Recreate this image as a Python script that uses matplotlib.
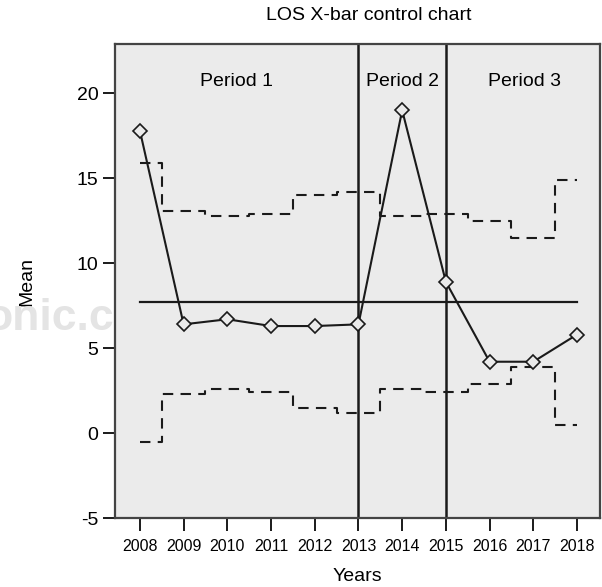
import numpy as np
import matplotlib.pyplot as plt

plt.rcParams['font.family'] = ['Liberation Sans', 'DejaVu Sans']
plt.rcParams['axes.unicode_minus'] = False

years = [2008, 2009, 2010, 2011, 2012, 2013, 2014, 2015, 2016, 2017, 2018]
means = [17.8, 6.4, 6.7, 6.3, 6.3, 6.4, 19.0, 8.9, 4.2, 4.2, 5.8]
ucl = [15.9, 13.1, 12.8, 12.9, 14.0, 14.2, 12.8, 12.9, 12.5, 11.5, 14.9]
lcl = [-0.5, 2.3, 2.6, 2.4, 1.5, 1.2, 2.6, 2.4, 2.9, 3.9, 0.5]
center = 7.7
period_breaks = [2013, 2015]
period_labels = ['Period 1', 'Period 2', 'Period 3']
period_x = [2010.2, 2014.0, 2016.8]
y_ticks = [-5, 0, 5, 10, 15, 20]

ink = '#1a1a1a'
fig = plt.figure(figsize=(6.02, 5.87), dpi=100)
# faint publisher watermark fragment, sits behind the axes
fig.text(-0.024, 0.438, 'onic.c', fontsize=32, fontweight='bold',
         color='#e4e4e4', va='baseline', ha='left', zorder=0)
ax = fig.add_axes([0.191, 0.1175, 0.806, 0.8075])
ax.set_facecolor('#ebebeb')

ax.step(years, ucl, where='mid', color=ink, lw=1.5, ls=(0, (5, 3.5)))
ax.step(years, lcl, where='mid', color=ink, lw=1.5, ls=(0, (5, 3.5)))
ax.plot([years[0], years[-1]], [center, center], color=ink, lw=1.6)
for b in period_breaks:
    ax.axvline(b, color=ink, lw=1.8)
ax.plot(years, means, color=ink, lw=1.5, marker='D', ms=7,
        mfc='#ebebeb', mec=ink, mew=1.2)

for lab, px in zip(period_labels, period_x):
    ax.text(px, 20.7, lab, fontsize=14, ha='center', va='center', color='black')

ax.set_xlim(2007.43, 2018.53)
ax.set_ylim(-5, 22.9)
ax.set_xticks(years)
ax.set_yticks(y_ticks)
ax.tick_params(length=9, width=1.4, color=ink)
ax.tick_params(axis='x', labelsize=11.5, pad=6)
ax.tick_params(axis='y', labelsize=14, pad=3)
for s in ax.spines.values():
    s.set_color('#444444')
    s.set_linewidth(1.6)

ax.set_xlabel('Years', fontsize=14, labelpad=10)
ax.set_ylabel('Mean', fontsize=14, labelpad=30)
fig.text(0.613, 0.974, 'LOS X-bar control chart', fontsize=14,
         ha='center', va='center')

fig.savefig('out.png', dpi=100)
